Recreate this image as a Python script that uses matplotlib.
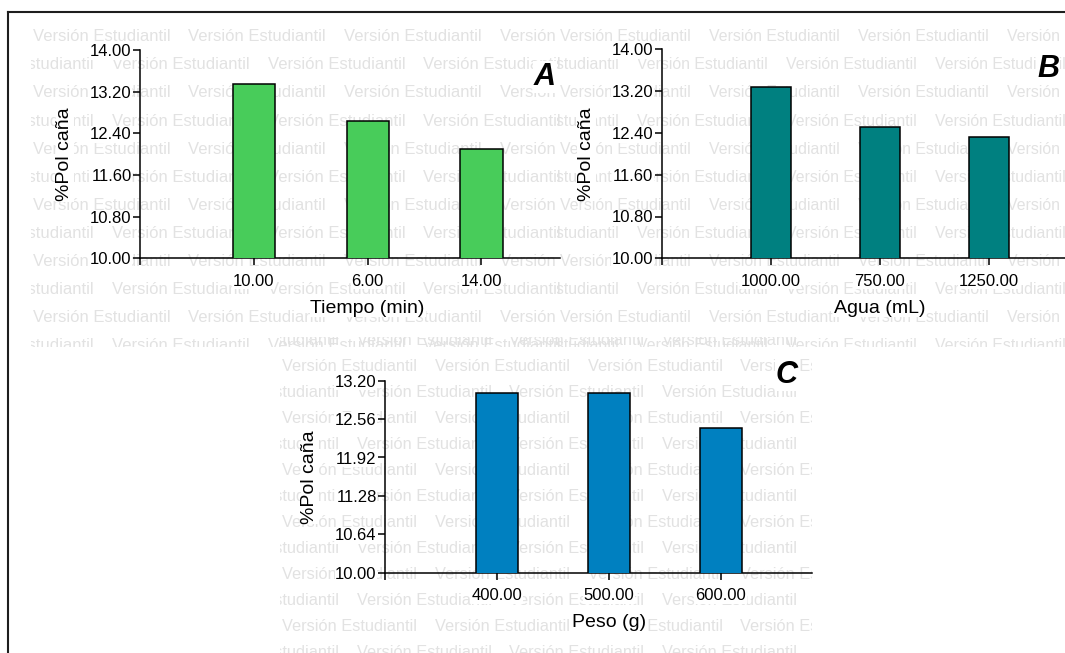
import matplotlib
matplotlib.use("Agg")
import matplotlib.pyplot as plt
from matplotlib.lines import Line2D

plt.rcParams['font.family'] = ['Liberation Sans', 'DejaVu Sans']

# medias de %Pol caña por factor
tiempo = ['10.00', '6.00', '14.00']
pol_tiempo = [13.35, 12.64, 12.10]
agua = ['1000.00', '750.00', '1250.00']
pol_agua = [13.27, 12.51, 12.32]
peso = ['400.00', '500.00', '600.00']
pol_peso = [12.99, 12.99, 12.41]
ticks_ab = [10.00, 10.80, 11.60, 12.40, 13.20, 14.00]
ticks_c = [10.00, 10.64, 11.28, 11.92, 12.56, 13.20]

W, H = 1065, 653
fig = plt.figure(figsize=(W / 100, H / 100), dpi=100)


def rect(x0, y0, x1, y1):
    # pixeles -> fraccion de figura
    return [x0 / W, 1 - y1 / H, (x1 - x0) / W, (y1 - y0) / H]


def marca(x0, y0, x1, y1, fila0, paso_y, col0, col_impar, paso_x, tam):
    # marca de agua repetida, recortada a su zona
    ax = fig.add_axes(rect(x0, y0, x1, y1), zorder=0)
    ax.set_xlim(x0, x1)
    ax.set_ylim(y1, y0)
    ax.axis('off')
    k = -1
    y = fila0 - paso_y
    while y < y1 + paso_y:
        x = col0 if k % 2 == 0 else col_impar
        while x > x0 - 150:
            x -= paso_x
        while x < x1:
            ax.text(x, y, 'Versión Estudiantil', fontsize=tam, color='#e2e2e2',
                    ha='left', va='center', clip_on=True)
            x += paso_x
        k += 1
        y += paso_y


def panel(pos, xmax, cats, vals, color, yt, xlabel, letra, letra_xy):
    ax = fig.add_axes(rect(*pos), zorder=2)
    ax.patch.set_visible(False)
    ax.bar(range(len(cats)), vals, width=0.37, color=color,
           edgecolor='black', linewidth=1.1, zorder=3)
    ax.set_xlim(-1, xmax)
    ax.set_ylim(yt[0], yt[-1])
    ax.set_yticks(yt)
    ax.set_yticklabels(['%.2f' % v for v in yt])
    ax.set_xticks([-1] + list(range(len(cats))))
    ax.set_xticklabels([''] + cats)
    for s in ['top', 'right']:
        ax.spines[s].set_visible(False)
    for s in ['left', 'bottom']:
        ax.spines[s].set_linewidth(1.1)
    ax.tick_params(length=5, width=1.1, labelsize=12)
    ax.tick_params(axis='y', pad=1)
    ax.tick_params(axis='x', pad=6)
    ax.set_ylabel('%Pol caña', fontsize=14, labelpad=12)
    ax.set_xlabel(xlabel, fontsize=14, labelpad=8)
    ax.xaxis.label.set_x(2 / (xmax + 1))
    fondo = dict(facecolor='white', edgecolor='none', pad=0.5)
    for t in ax.get_xticklabels() + ax.get_yticklabels():
        t.set_bbox(fondo)
    ax.xaxis.label.set_bbox(fondo)
    ax.yaxis.label.set_bbox(fondo)
    ax.text(letra_xy[0], letra_xy[1], letra, transform=ax.transAxes, fontsize=22,
            fontweight='bold', style='italic', ha='center', va='center', bbox=fondo)
    return ax


marca(31, 22, 560, 347, 36.7, 28.1, 32.7, -44.1, 155.8, 12)
marca(557, 22, 1065, 347, 36.7, 28.1, 560, 636.7 - 149, 149, 11.4)
marca(280, 337, 812, 653, 366.7, 26, 282.5, 356.7 - 152.5, 152.5, 11.8)

panel((140, 50, 560, 258.3), 2.69, tiempo, pol_tiempo, '#48CC5A', ticks_ab,
      'Tiempo (min)', 'A', (0.964, 0.87))
panel((661.7, 49.3, 1065, 258.3), 2.70, agua, pol_agua, '#008080', ticks_ab,
      'Agua (mL)', 'B', (0.958, 0.906))
panel((385, 380.7, 811.7, 572.7), 2.81, peso, pol_peso, '#0080C0', ticks_c,
      'Peso (g)', 'C', (0.941, 1.03))

# marco
fig.add_artist(Line2D([8 / W, 1], [1 - 12 / H, 1 - 12 / H], transform=fig.transFigure,
                      color='#1e1e1e', lw=1.5, zorder=5))
fig.add_artist(Line2D([8 / W, 8 / W], [0, 1 - 12 / H], transform=fig.transFigure,
                      color='#1e1e1e', lw=1.5, zorder=5))

fig.savefig('out.png', dpi=100)
